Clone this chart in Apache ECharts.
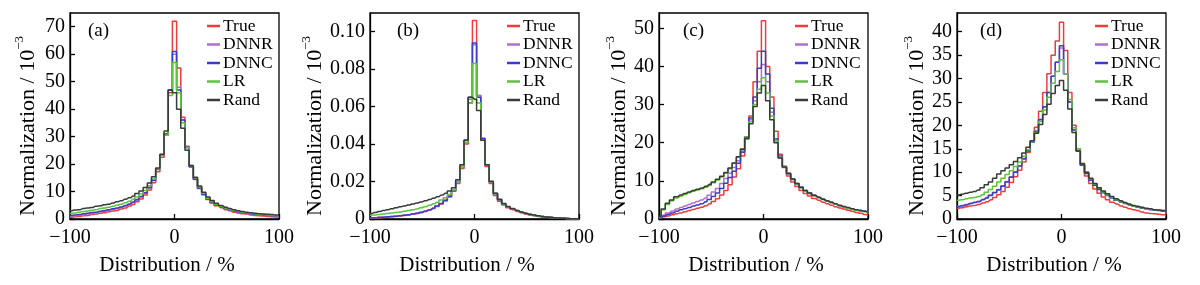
<!DOCTYPE html>
<html>
<head>
<meta charset="utf-8">
<script src="https://cdn.jsdelivr.net/npm/echarts@6/dist/echarts.min.js"></script>
<style>html,body{margin:0;padding:0;background:#fff}#c{width:1200px;height:285px}</style>
</head>
<body>
<div id="c"></div>
<script>
// bin centres (%)
const binCenters = [-100,-96,-92,-88,-84,-80,-76,-72,-68,-64,-60,-56,-52,-48,-44,-40,-36,-32,-28,-24,-20,-16,-12,-8,-4,0,4,8,12,16,20,24,28,32,36,40,44,48,52,56,60,64,68,72,76,80,84,88,92,96,100];
const seriesNames = ['True','DNNR','DNNC','LR','Rand'];
const panelLabels = ['(a)','(b)','(c)','(d)'];

// panel (a), unit 10^-3
const aTrue = [0.6,0.8,0.9,1.2,1.3,1.6,1.8,2.1,2.3,2.6,2.9,3.1,3.6,4.0,4.7,5.3,6.3,7.3,8.7,10.6,13.2,17.2,22.5,30.5,46,72,55,37,26.5,19,14.6,11.2,8.8,7.1,5.8,4.8,4.1,3.4,3.0,2.5,2.2,1.9,1.8,1.5,1.3,1.2,1.1,0.9,0.8,0.7,0.6];
const aDNNR = [1.0,1.1,1.4,1.5,1.8,2.0,2.3,2.6,2.8,3.2,3.5,3.7,4.2,4.7,5.2,6.0,6.8,8.0,9.4,11.3,14.0,18.0,23.5,31,47,60,48,36,26,19,14.4,11.1,8.9,7.2,5.9,5.0,4.4,3.7,3.2,2.9,2.5,2.2,2.0,1.8,1.6,1.5,1.4,1.3,1.2,1.1,1.0];
const aDNNC = [1.3,1.5,1.6,1.9,2.1,2.4,2.5,2.8,3.1,3.4,3.7,4.0,4.4,4.9,5.5,6.2,7.1,8.2,9.6,11.5,14.1,18.2,23.5,31,47,61,47,36,26,19,14.5,11.2,9.0,7.3,6.0,5.1,4.4,3.8,3.3,2.9,2.6,2.3,2.1,1.9,1.7,1.6,1.5,1.4,1.3,1.2,1.1];
const aLR = [2.0,2.2,2.5,2.7,2.9,3.2,3.4,3.8,4.0,4.3,4.6,5.0,5.4,5.9,6.5,7.2,8.0,9.1,10.4,12.1,14.6,18.3,23.5,30.5,45,57,46,35,26,19.5,15,11.7,9.4,7.6,6.3,5.4,4.6,4.0,3.5,3.1,2.8,2.5,2.3,2.1,1.9,1.7,1.6,1.5,1.4,1.3,1.2];
const aRand = [3.0,3.3,3.4,3.8,4.0,4.2,4.6,4.8,5.2,5.4,5.8,6.3,6.6,7.2,7.7,8.4,9.3,10.2,11.5,13.1,15.4,18.6,23.5,32,47,46,40,33,25,19.5,15.2,12,9.7,8.0,6.7,5.7,4.9,4.3,3.8,3.4,3.0,2.7,2.5,2.3,2.1,1.9,1.8,1.7,1.6,1.5,1.4];

// panel (b)
const bTrue = [0.0005,0.0006,0.0007,0.0008,0.0010,0.0012,0.0014,0.0016,0.0019,0.0022,0.0025,0.0029,0.0034,0.0040,0.0047,0.0056,0.0067,0.0080,0.0096,0.0118,0.0148,0.019,0.027,0.040,0.062,0.106,0.066,0.043,0.028,0.019,0.0125,0.0095,0.0075,0.0060,0.0050,0.0040,0.0033,0.0027,0.0022,0.0018,0.0014,0.0011,0.0009,0.0007,0.0005,0.0004,0.0003,0.0002,0.0001,0.0001,0];
const bDNNR = [0.0006,0.0007,0.0008,0.0010,0.0011,0.0013,0.0015,0.0017,0.0020,0.0023,0.0026,0.0030,0.0035,0.0041,0.0048,0.0057,0.0068,0.0082,0.0099,0.0121,0.0150,0.020,0.028,0.042,0.064,0.093,0.066,0.043,0.029,0.020,0.0135,0.0102,0.0080,0.0064,0.0053,0.0043,0.0035,0.0029,0.0024,0.0019,0.0015,0.0012,0.0010,0.0008,0.0006,0.0005,0.0004,0.0003,0.0002,0.0001,0.0001];
const bDNNC = [0.0006,0.0007,0.0009,0.0010,0.0012,0.0013,0.0015,0.0018,0.0020,0.0023,0.0027,0.0031,0.0036,0.0042,0.0049,0.0058,0.0069,0.0083,0.0100,0.0122,0.0151,0.020,0.028,0.042,0.065,0.094,0.065,0.043,0.029,0.020,0.0136,0.0103,0.0081,0.0065,0.0054,0.0044,0.0036,0.0030,0.0024,0.0020,0.0016,0.0013,0.0010,0.0008,0.0006,0.0005,0.0004,0.0003,0.0002,0.0001,0.0001];
const bLR = [0.0020,0.0022,0.0024,0.0027,0.0029,0.0032,0.0035,0.0038,0.0041,0.0045,0.0049,0.0054,0.0060,0.0066,0.0073,0.0081,0.0090,0.0101,0.0114,0.0131,0.0155,0.020,0.028,0.041,0.062,0.083,0.062,0.042,0.029,0.020,0.0137,0.0104,0.0082,0.0066,0.0055,0.0045,0.0037,0.0030,0.0025,0.0020,0.0016,0.0013,0.0011,0.0009,0.0007,0.0005,0.0004,0.0003,0.0002,0.0001,0.0001];
const bRand = [0.0030,0.0035,0.0040,0.0045,0.0050,0.0055,0.0060,0.0065,0.0070,0.0075,0.0080,0.0085,0.0091,0.0097,0.0104,0.0111,0.0119,0.0128,0.0138,0.0150,0.0167,0.021,0.029,0.042,0.065,0.064,0.058,0.042,0.029,0.020,0.0138,0.0105,0.0083,0.0067,0.0056,0.0046,0.0038,0.0031,0.0026,0.0021,0.0017,0.0014,0.0011,0.0009,0.0007,0.0006,0.0004,0.0003,0.0002,0.0002,0.0001];

// panel (c), unit 10^-3
const cTrue = [0.3,0.6,0.8,1.1,1.4,1.6,1.9,2.2,2.5,2.8,3.1,3.5,4.0,4.6,5.3,6.3,7.5,9.0,11.0,13.2,16.5,21,27,36,44,52,40,32,23,17,13.5,11.3,9.7,8.5,7.5,6.7,6.0,5.4,4.9,4.4,4.0,3.6,3.2,2.9,2.6,2.3,2.0,1.7,1.5,1.2,1.0];
const cDNNR = [0.4,1.0,1.6,2.1,2.6,3.0,3.4,3.8,4.2,4.6,5.0,5.5,6.2,7.1,8.0,9.3,10.6,12.0,13.5,15.3,17.8,21.5,26,31,36,40.5,36,28,20.5,16,13.6,11.8,10.3,9.1,8.2,7.4,6.7,6.1,5.6,5.1,4.7,4.3,3.9,3.5,3.2,2.9,2.6,2.4,2.2,2.0,1.8];
const cDNNC = [0.3,0.8,1.2,1.6,2.0,2.4,2.7,3.0,3.4,3.7,4.0,4.5,5.1,5.9,6.8,8.0,9.4,10.9,12.5,14.6,17.5,21.5,26.5,32,39.5,44,38,29,21,16.5,13.8,12,10.5,9.3,8.3,7.5,6.8,6.2,5.7,5.2,4.7,4.3,3.9,3.5,3.2,2.9,2.6,2.4,2.2,2.0,1.8];
const cLR = [0.6,2.4,3.8,4.8,5.5,6.0,6.4,6.9,7.3,7.6,7.9,8.3,8.8,9.5,10.2,11.0,12.0,13.2,14.6,16.2,18.4,21.5,25.5,30,34,37,33,27,20.5,16.2,13.7,11.9,10.4,9.2,8.2,7.4,6.7,6.1,5.6,5.1,4.7,4.3,3.9,3.5,3.2,2.8,2.5,2.3,2.1,1.9,1.7];
const cRand = [0.7,2.6,4.1,5.0,5.8,6.3,6.7,7.1,7.5,7.8,8.1,8.6,9.1,9.7,10.4,11.2,12.2,13.4,14.7,16.3,18.3,21.2,25,29.5,33,35,31,26,20,16,13.6,11.9,10.5,9.3,8.3,7.5,6.8,6.2,5.7,5.2,4.8,4.4,4.0,3.6,3.3,3.0,2.7,2.4,2.2,2.0,1.8];

// panel (d), unit 10^-3
const dTrue = [2.3,2.4,2.6,2.8,2.9,3.1,3.4,3.7,4.1,4.6,5.2,5.9,6.8,7.8,9.0,10.4,12.2,14.2,16.6,19.6,23,27,31,35,38,42,36,27,20,15,11.5,9.2,7.6,6.4,5.5,4.7,4.1,3.6,3.2,2.8,2.5,2.2,2.0,1.8,1.5,1.3,1.2,1.1,1.0,0.9,0.8];
const dDNNR = [2.7,2.9,3.1,3.3,3.6,3.8,4.2,4.6,5.1,5.7,6.3,7.1,8.0,9.0,10.1,11.4,12.9,14.6,16.5,18.8,21.3,24,27,30.5,33.5,36.5,31,25,19,14.6,11.6,9.8,8.4,7.3,6.4,5.7,5.1,4.6,4.1,3.7,3.4,3.1,2.8,2.6,2.4,2.2,2.1,2.0,1.9,1.7,1.6];
const dDNNC = [2.6,2.8,3.0,3.3,3.5,3.7,4.1,4.5,5.0,5.6,6.2,7.0,7.9,8.9,10.0,11.3,12.8,14.5,16.4,18.7,21.2,24,27,30.5,33.5,37,31,25,19,14.5,11.5,9.7,8.3,7.2,6.3,5.6,5.0,4.5,4.0,3.6,3.3,3.0,2.7,2.5,2.3,2.2,2.0,1.9,1.8,1.7,1.6];
const dLR = [4.0,4.1,4.3,4.5,4.6,4.8,5.2,5.7,6.3,7.0,7.9,8.7,9.5,10.3,11.2,12.2,13.4,14.8,16.5,18.5,20.8,23.3,26,29,31.5,34,31,25.5,19.5,15,11.9,10.0,8.6,7.5,6.6,5.8,5.2,4.6,4.1,3.7,3.4,3.1,2.8,2.6,2.4,2.2,2.1,2.0,1.9,1.8,1.7];
const dRand = [5.1,5.3,5.5,5.7,5.9,6.2,6.7,7.3,7.9,8.7,9.6,10.3,10.9,11.6,12.3,13.1,14.1,15.3,16.7,18.3,20.2,22.3,24.5,26.8,28.5,29.6,27.5,23.5,18.5,14.5,11.8,10.0,8.7,7.6,6.7,6.0,5.4,4.8,4.3,3.9,3.5,3.2,2.9,2.7,2.5,2.3,2.2,2.0,1.9,1.8,1.7];

const panelData = [
  [aTrue, aDNNR, aDNNC, aLR, aRand],
  [bTrue, bDNNR, bDNNC, bLR, bRand],
  [cTrue, cDNNR, cDNNC, cLR, cRand],
  [dTrue, dDNNR, dDNNC, dLR, dRand]
];
const yMax = [75, 0.11, 54, 44];
const yInterval = [10, 0.02, 10, 5];

// styling / layout
const colors = ['#ee3b3b', '#b070c8', '#3c3cc4', '#5cc43c', '#3a3a3a'];
const gridLeft = [70, 370, 659, 957];
const gridTop = 13, gridW = 209, gridH = 206;
const yNameGap = [31, 36, 27, 27];
const legendLeft = [207, 507, 795, 1095];
const labelLeft = [88, 397, 683, 980];
const FONT = '"Liberation Serif", "DejaVu Serif", serif';

const grids = [], xAxes = [], yAxes = [], series = [], legends = [], graphics = [];
for (let p = 0; p < 4; p++) {
  grids.push({left: gridLeft[p], top: gridTop, width: gridW, height: gridH, show: true, borderColor: '#000', borderWidth: 1.3, backgroundColor: 'transparent'});
  xAxes.push({
    type: 'value', gridIndex: p, min: -100, max: 100, interval: 100,
    axisLine: {onZero: false, lineStyle: {color: '#000', width: 1.3}},
    axisTick: {inside: true, length: 5, lineStyle: {color: '#000', width: 1.3}},
    splitLine: {show: false},
    axisLabel: {color: '#000', fontFamily: FONT, fontSize: 20, margin: 9,
      formatter: v => v < 0 ? '\u2212' + Math.abs(v) : String(v)},
    name: 'Distribution / %', nameLocation: 'middle', nameGap: 36,
    nameTextStyle: {color: '#000', fontFamily: FONT, fontSize: 21, padding: [0, 15, 0, 0]}
  });
  yAxes.push({
    type: 'value', gridIndex: p, min: 0, max: yMax[p], interval: yInterval[p],
    axisLine: {onZero: false, lineStyle: {color: '#000', width: 1.3}},
    axisTick: {inside: true, length: 5, lineStyle: {color: '#000', width: 1.3}},
    splitLine: {show: false},
    axisLabel: {color: '#000', fontFamily: FONT, fontSize: 20, margin: 5, showMaxLabel: false,
      formatter: v => p === 1 ? (v === 0 ? '0' : v.toFixed(2)) : String(Math.round(v))},
    name: '{a|Normalization / 10}{s|\u22123}', nameLocation: 'middle', nameGap: yNameGap[p],
    nameTextStyle: {padding: [0, 20, 0, 0], rich: {
      a: {color: '#000', fontFamily: FONT, fontSize: 22, lineHeight: 26, verticalAlign: 'bottom'},
      s: {color: '#000', fontFamily: FONT, fontSize: 13, lineHeight: 26, verticalAlign: 'top'}
    }}
  });
  seriesNames.forEach((nm, k) => {
    series.push({
      name: nm, type: 'line', xAxisIndex: p, yAxisIndex: p, step: 'middle',
      symbol: 'none', showSymbol: false, silent: true,
      lineStyle: {color: colors[k], width: 1.5},
      itemStyle: {color: colors[k]},
      data: binCenters.map((x, i) => [x, panelData[p][k][i]])
    });
  });
  legends.push({
    orient: 'vertical', left: legendLeft[p], top: 17, itemGap: 0.5, padding: 0,
    itemWidth: 13, itemHeight: 2.5, icon: 'rect', selectedMode: false,
    textStyle: {color: '#000', fontFamily: FONT, fontSize: 17.5, lineHeight: 18, padding: [0, 0, 0, -2]},
    data: seriesNames
  });
  graphics.push({type: 'text', left: labelLeft[p], top: 22,
    style: {text: panelLabels[p], fill: '#000', font: '19px ' + FONT}});
}

const chart = echarts.init(document.getElementById('c'), null, {renderer: 'canvas'});
chart.setOption({
  animation: false,
  backgroundColor: '#fff',
  grid: grids, xAxis: xAxes, yAxis: yAxes, series: series, legend: legends,
  graphic: graphics
});
</script>
</body>
</html>
